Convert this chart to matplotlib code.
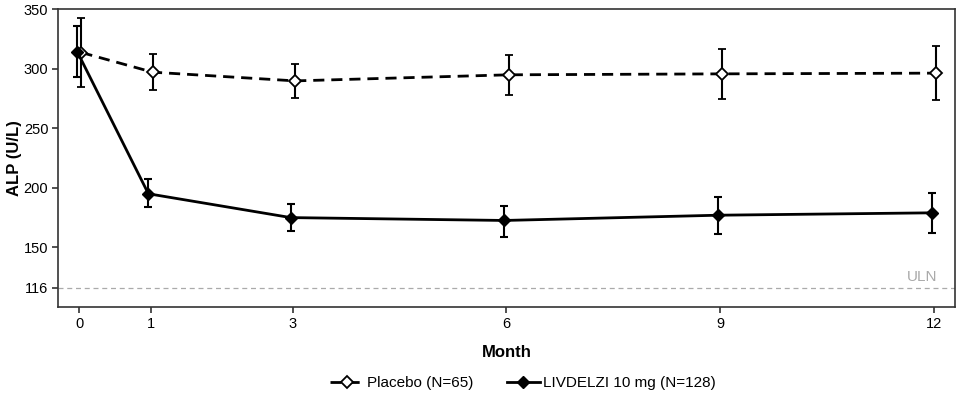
import matplotlib.pyplot as plt
from matplotlib.lines import Line2D

plt.rcParams['font.family'] = ['Liberation Sans', 'DejaVu Sans']

months = [0, 1, 3, 6, 9, 12]

placebo_mean = [313.5, 297, 289.7, 294.8, 295.6, 296.2]
placebo_low = [284.7, 282.2, 275.5, 278, 274.4, 273.3]
placebo_high = [342.5, 312.3, 304, 311.5, 316.5, 319]

livdelzi_mean = [314.3, 195, 175, 172.6, 177, 179]
livdelzi_low = [293, 183.8, 163.4, 159, 161, 162.3]
livdelzi_high = [335.8, 207, 186, 185, 192.4, 195.8]

uln = 116
yticks = [116, 150, 200, 250, 300, 350]

fig = plt.figure(figsize=(9.63, 3.99), dpi=100)
ax = fig.add_axes([0.0602, 0.2306, 0.9315, 0.7468])

dodge = 0.03
xp = [m + dodge for m in months]
xl = [m - dodge for m in months]

ax.axhline(uln, color='#aaaaaa', lw=0.9, ls=(0, (4, 3)), zorder=1)
ax.text(12.05, uln + 3, 'ULN', color='#aaaaaa', fontsize=11, ha='right', va='bottom')

dash = (0, (4, 2.5))
ax.errorbar(xp, placebo_mean,
            yerr=[[m - lo for m, lo in zip(placebo_mean, placebo_low)],
                  [hi - m for m, hi in zip(placebo_mean, placebo_high)]],
            color='black', lw=2, ls=dash, marker='D', ms=6,
            mfc='white', mec='black', mew=1.3, ecolor='black', elinewidth=1.5,
            capsize=3, capthick=1.5, zorder=3)
ax.errorbar(xl, livdelzi_mean,
            yerr=[[m - lo for m, lo in zip(livdelzi_mean, livdelzi_low)],
                  [hi - m for m, hi in zip(livdelzi_mean, livdelzi_high)]],
            color='black', lw=2, ls='-', marker='D', ms=6,
            mfc='black', mec='black', ecolor='black', elinewidth=1.5,
            capsize=3, capthick=1.5, zorder=4)

ax.set_xlim(-0.3, 12.3)
ax.set_ylim(100, 350)
ax.set_xticks(months)
ax.set_yticks(yticks)
ax.tick_params(labelsize=10.5, length=4, width=1.2, color='#333333', pad=3)
for sp in ax.spines.values():
    sp.set_color('#333333')
    sp.set_linewidth(1.2)

ax.set_xlabel('Month', fontsize=12, fontweight='bold', labelpad=10)
ax.set_ylabel('ALP (U/L)', fontsize=12, fontweight='bold')
ax.yaxis.set_label_coords(-0.040, 0.5)

handles = [
    Line2D([], [], color='black', lw=2, ls=dash, marker='D', ms=6,
           mfc='white', mec='black', mew=1.3),
    Line2D([], [], color='black', lw=2, ls='-', marker='D', ms=6,
           mfc='black', mec='black'),
]
fig.legend(handles, ['Placebo (N=65)', 'LIVDELZI 10 mg (N=128)'],
           loc='center', bbox_to_anchor=(0.543, 0.04), ncol=2, frameon=False,
           fontsize=11, handlelength=2.2, handletextpad=0.2, columnspacing=2.2)

fig.savefig('out.png', dpi=100)
